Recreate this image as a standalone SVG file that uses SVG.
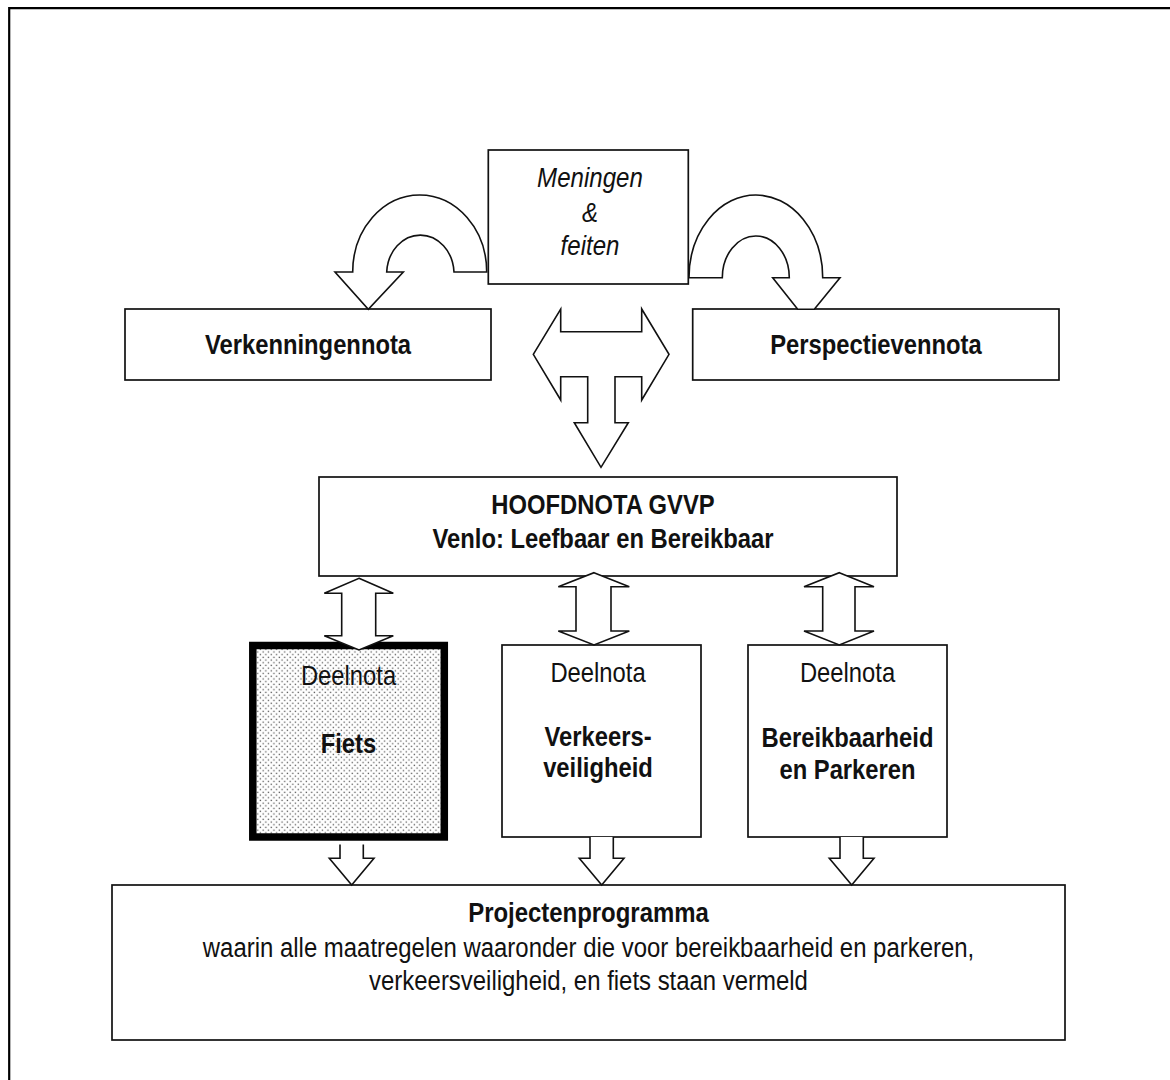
<svg xmlns="http://www.w3.org/2000/svg" width="1170" height="1080" viewBox="0 0 1170 1080">
<style>
.box{fill:#fff;stroke:#111;stroke-width:1.7}
.arr{fill:#fff;stroke:#111;stroke-width:1.6;stroke-linejoin:miter}
text{font-family:"Liberation Sans","Arial",sans-serif;font-size:28px;fill:#111;text-anchor:middle}
.b{font-weight:bold}
.i{font-style:italic}
</style>
<defs>
<pattern id="dots" width="5.4" height="5.4" patternUnits="userSpaceOnUse">
<rect width="5.4" height="5.4" fill="#fff"/>
<rect x="0.6" y="0.6" width="1.3" height="1.3" fill="#555"/>
<rect x="3.3" y="3.3" width="1.3" height="1.3" fill="#555"/>
</pattern>
</defs>
<rect width="1170" height="1080" fill="#fff"/>
<path d="M9.2,1085 V8.2 H1175" fill="none" stroke="#000" stroke-width="2.2"/>

<g id="meningen">
<rect class="box" x="488.3" y="150" width="200" height="134"/>
<g transform="translate(590 0) scale(0.86 1)">
<text class="i" x="0" y="187">Meningen</text>
<text class="i" x="0" y="222">&amp;</text>
<text class="i" x="0" y="255">feiten</text>
</g>
</g>
<g id="verkenningennota">
<rect class="box" x="125" y="309" width="366" height="71"/>
<g transform="translate(308 0) scale(0.85 1)"><text class="b" x="0" y="354">Verkenningennota</text></g>
</g>
<g id="perspectievennota">
<rect class="box" x="692.7" y="309" width="366.3" height="71"/>
<g transform="translate(876 0) scale(0.85 1)"><text class="b" x="0" y="354">Perspectievennota</text></g>
</g>
<g id="hoofdnota">
<rect class="box" x="319" y="477" width="578" height="99"/>
<g transform="translate(603 0) scale(0.85 1)">
<text class="b" x="0" y="514">HOOFDNOTA GVVP</text>
<text class="b" x="0" y="548">Venlo: Leefbaar en Bereikbaar</text>
</g>
</g>
<g id="fiets">
<rect x="252.8" y="645.5" width="191.5" height="191.5" fill="url(#dots)" stroke="#000" stroke-width="7.5"/>
<g transform="translate(348.5 0) scale(0.85 1)">
<text x="0" y="685">Deelnota</text>
<text class="b" x="0" y="753">Fiets</text>
</g>
</g>
<g id="verkeersveiligheid">
<rect class="box" x="502" y="645" width="199" height="192"/>
<g transform="translate(598 0) scale(0.85 1)">
<text x="0" y="682">Deelnota</text>
<text class="b" x="0" y="746">Verkeers-</text>
<text class="b" x="0" y="777">veiligheid</text>
</g>
</g>
<g id="bereikbaarheid">
<rect class="box" x="748" y="645" width="199" height="192"/>
<g transform="translate(847.5 0) scale(0.85 1)">
<text x="0" y="682">Deelnota</text>
<text class="b" x="0" y="747">Bereikbaarheid</text>
<text class="b" x="0" y="779">en Parkeren</text>
</g>
</g>
<g id="projectenprogramma">
<rect class="box" x="112" y="885" width="953" height="155"/>
<g transform="translate(588.5 0) scale(0.855 1)">
<text class="b" x="0" y="922">Projectenprogramma</text>
<text x="0" y="957">waarin alle maatregelen waaronder die voor bereikbaarheid en parkeren,</text>
<text x="0" y="990">verkeersveiligheid, en fiets staan vermeld</text>
</g>
</g>

<g id="connectors">
<path class="arr" d="M486.7,272 A67,77 0 0 0 352.7,272 H335 L368.3,309.3 L403.3,272 H386.7 A33.7,39 0 0 1 454,272 Z"/>
<path class="arr" d="M689,277.7 A66.85,82.7 0 0 1 822.7,277.7 H840 L814.3,309.3 H797.7 L772.7,277.7 H789.3 A33.5,41.7 0 0 0 722.3,277.7 Z"/>
<path class="arr" d="M533.3,354.3 L560.7,309 V331.7 H641.7 V309 L669,354.3 L641.7,400 V376.7 H615 V422.7 H628.3 L601,467.3 L574.3,422.7 H587.7 V376.7 H560.7 V400 Z"/>
<path class="arr" d="M359,578.3 L393.3,593.3 H375.7 V635.7 H393.3 L359,650 L324.3,635.7 H341.7 V593.3 H324.3 Z"/>
<path class="arr" d="M594,572.7 L629.3,586.7 H611 V631 H629.3 L594,645 L558.3,631 H576 V586.7 H558.3 Z"/>
<path class="arr" d="M839.3,572.7 L874,586.7 H855 V631 H874 L839.3,645 L804,631 H822.7 V586.7 H804 Z"/>
<path class="arr" d="M340,844.5 V858.3 H329.3 L351.7,885 L374,858.3 H363.3 V844.5"/>
<path class="arr" d="M590,837 V858.3 H579.3 L601.7,885 L624,858.3 H613.3 V837"/>
<path class="arr" d="M840,837 V858.3 H829.3 L851.7,885 L874,858.3 H863.3 V837"/>
</g>
</svg>
